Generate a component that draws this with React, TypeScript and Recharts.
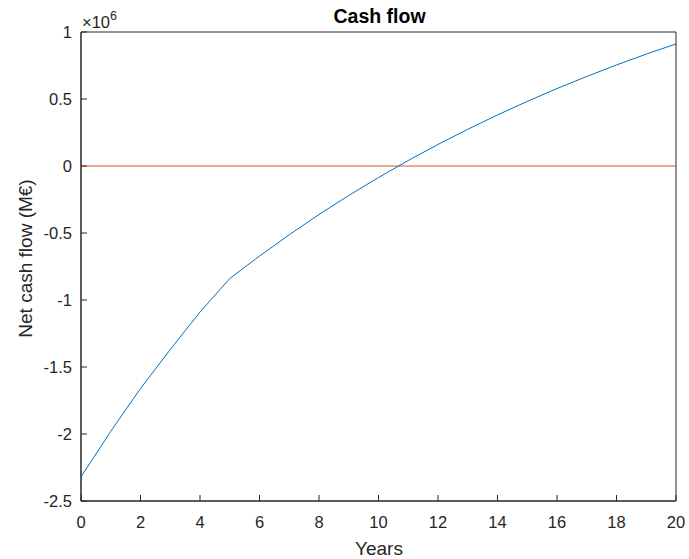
import React from 'react';
import { LineChart, Line, XAxis, YAxis, ReferenceArea } from 'recharts';

const years = [0, 1, 2, 3, 4, 5, 6, 7, 8, 9, 10, 11, 12, 13, 14, 15, 16, 17, 18, 19, 20];
const netCashFlow = [
  -2320000, -1980000, -1660000, -1370000, -1090000, -840000,
  -672000, -513000, -362000, -220000, -86000, 41000, 161000, 274000,
  381000, 482000, 578000, 668000, 754000, 835000, 911000,
];
const zeroLine = years.map(() => 0);
const xTicks = [0, 2, 4, 6, 8, 10, 12, 14, 16, 18, 20];
const yTicks = [-2500000, -2000000, -1500000, -1000000, -500000, 0, 500000, 1000000];

const data = years.map((y, i) => ({ year: y, cash: netCashFlow[i], zero: zeroLine[i] }));

const AXIS = '#262626';
const FONT = '"Liberation Sans", Arial, Helvetica, sans-serif';
const TICK_LEN = 6;

const BottomTick = (props: any) => {
  const { x, y, payload } = props;
  return (
    <g>
      <line x1={x} y1={y} x2={x} y2={y - TICK_LEN} stroke={AXIS} strokeWidth={1} />
      <text x={x} y={y + 15} dy="0.71em" textAnchor="middle" fontSize={16.5} fontFamily={FONT} fill={AXIS}>
        {String(payload.value)}
      </text>
    </g>
  );
};

const TopTick = (props: any) => {
  const { x, y } = props;
  return <line x1={x} y1={y} x2={x} y2={y + TICK_LEN} stroke={AXIS} strokeWidth={1} />;
};

const LeftTick = (props: any) => {
  const { x, y, payload } = props;
  return (
    <g>
      <line x1={x} y1={y} x2={x + TICK_LEN} y2={y} stroke={AXIS} strokeWidth={1} />
      <text x={x - 9} y={y} dy="0.355em" textAnchor="end" fontSize={16.5} fontFamily={FONT} fill={AXIS}>
        {String(payload.value / 1000000)}
      </text>
    </g>
  );
};

const RightTick = (props: any) => {
  const { x, y } = props;
  return <line x1={x} y1={y} x2={x - TICK_LEN} y2={y} stroke={AXIS} strokeWidth={1} />;
};

export default function App() {
  const axisLine = { stroke: AXIS, strokeWidth: 1 };
  return (
    <div style={{ position: 'absolute', left: 0, top: 0, width: 689, height: 559, background: '#fff', fontFamily: FONT }}>
      <LineChart width={689} height={559} data={data} margin={{ top: 32, right: 13, bottom: 28, left: 21 }}>
        <XAxis
          xAxisId="b"
          dataKey="year"
          type="number"
          domain={[0, 20]}
          ticks={xTicks}
          height={30}
          tickSize={0}
          tickMargin={0}
          axisLine={axisLine}
          tickLine={false}
          tick={<BottomTick />}
          interval={0}
        />
        <XAxis
          xAxisId="t"
          orientation="top"
          dataKey="year"
          type="number"
          domain={[0, 20]}
          ticks={xTicks}
          height={0}
          tickSize={0}
          tickMargin={0}
          axisLine={axisLine}
          tickLine={false}
          tick={<TopTick />}
          interval={0}
        />
        <YAxis
          yAxisId="l"
          type="number"
          domain={[-2500000, 1000000]}
          ticks={yTicks}
          width={60}
          tickSize={0}
          tickMargin={0}
          axisLine={axisLine}
          tickLine={false}
          tick={<LeftTick />}
          interval={0}
        />
        <YAxis
          yAxisId="r"
          orientation="right"
          type="number"
          domain={[-2500000, 1000000]}
          ticks={yTicks}
          width={0}
          tickSize={0}
          tickMargin={0}
          axisLine={axisLine}
          tickLine={false}
          tick={<RightTick />}
          interval={0}
        />
        <ReferenceArea
          xAxisId="b"
          yAxisId="l"
          x1={0}
          x2={20}
          y1={-2500000}
          y2={1000000}
          fill="none"
          fillOpacity={0}
          stroke={AXIS}
          strokeWidth={1}
          strokeOpacity={1}
          ifOverflow="visible"
        />
        <Line xAxisId="b" yAxisId="l" type="linear" dataKey="zero" stroke="#D95319" strokeWidth={1} dot={false} isAnimationActive={false} />
        <Line xAxisId="b" yAxisId="l" type="linear" dataKey="cash" stroke="#0072BD" strokeWidth={1} dot={false} isAnimationActive={false} />
      </LineChart>
      <svg width={689} height={559} style={{ position: 'absolute', left: 0, top: 0, pointerEvents: 'none' }} fontFamily={FONT}>
        <text x={379.5} y={23} textAnchor="middle" fontWeight="bold" fontSize={19.5} fill="#000">Cash flow</text>
        <text x={379} y={555} textAnchor="middle" fontSize={19} fill={AXIS}>Years</text>
        <text transform="translate(25, 258.5) rotate(-90)" textAnchor="middle" dy="0.36em" fontSize={19} fill={AXIS}>Net cash flow (M€)</text>
        <text x={82} y={28} fontSize={16.5} fill={AXIS}>
          ×10<tspan fontSize={12.5} dy={-8}>6</tspan>
        </text>
      </svg>
    </div>
  );
}
